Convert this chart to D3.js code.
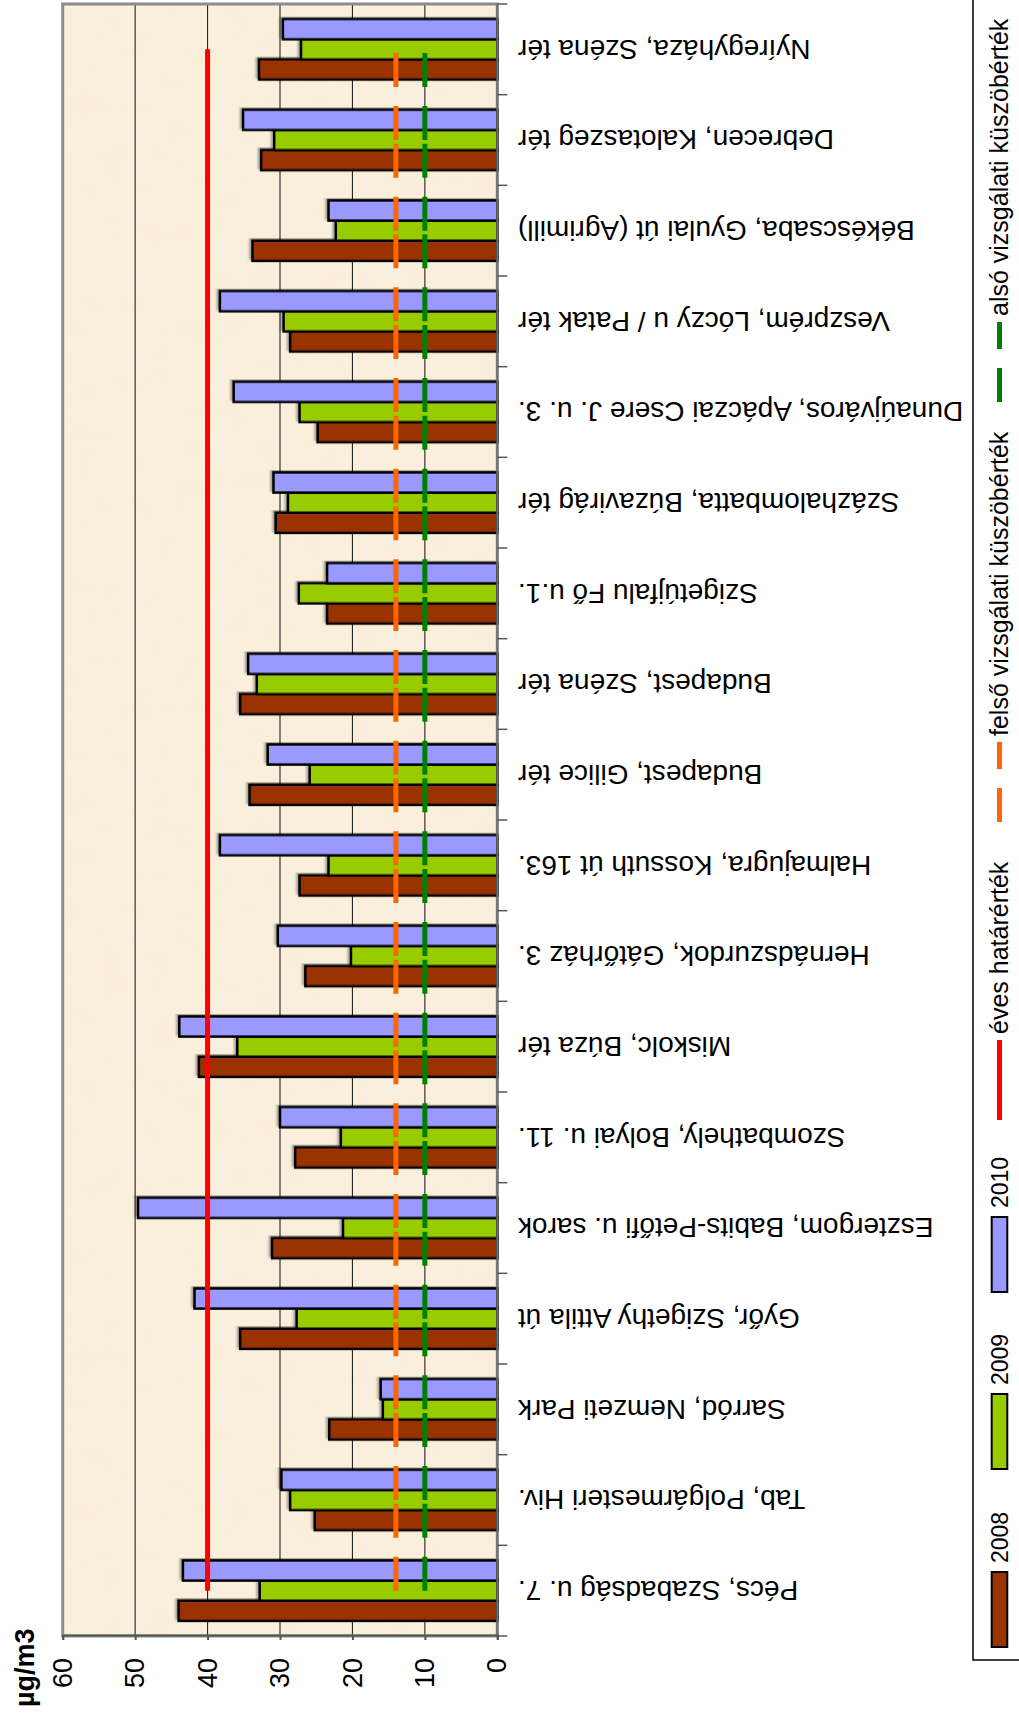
<!DOCTYPE html>
<html lang="hu">
<head>
<meta charset="utf-8">
<title>NO2 éves átlag 2008-2010</title>
<script src="https://cdn.jsdelivr.net/npm/d3@7"></script>
<style>
body { margin: 0; background: #fff; }
svg text { font-family: "Liberation Sans", Arial, sans-serif; fill: #000; }
</style>
</head>
<body>
<script>
// categories (first = left end of the unrotated chart)
var stations = [
  "Pécs, Szabadság u. 7.",
  "Tab, Polgármesteri Hiv.",
  "Sarród, Nemzeti Park",
  "Győr, Szigethy Attila út",
  "Esztergom, Babits-Petőfi u. sarok",
  "Szombathely, Bolyai u. 11.",
  "Miskolc, Búza tér",
  "Hernádszurdok, Gátőrház 3.",
  "Halmajugra, Kossuth út 163.",
  "Budapest, Gilice tér",
  "Budapest, Széna tér",
  "Szigetújfalu Fő u.1.",
  "Százhalombatta, Búzavirág tér",
  "Dunaújváros, Apáczai Csere J. u. 3.",
  "Veszprém, Lóczy u / Patak tér",
  "Békéscsaba, Gyulai út (Agrimill)",
  "Debrecen, Kalotaszeg tér",
  "Nyíregyháza, Széna tér"
];
var years = ["2008", "2009", "2010"];
var v2008 = [44.0, 25.2, 23.2, 35.5, 31.1, 27.9, 41.2, 26.5, 27.3, 34.2, 35.5, 23.5, 30.6, 24.8, 28.6, 33.8, 32.6, 32.9];
var v2009 = [32.8, 28.6, 15.8, 27.7, 21.3, 21.6, 35.9, 20.2, 23.3, 25.9, 33.2, 27.4, 28.9, 27.3, 29.5, 22.3, 30.8, 27.1];
var v2010 = [43.4, 29.8, 16.1, 41.8, 49.6, 30.0, 43.9, 30.3, 38.3, 31.7, 34.4, 23.5, 30.9, 36.4, 38.3, 23.3, 35.1, 29.6];
var limitAnnual = 40;     // éves határérték
var upperThreshold = 14;  // felső vizsgálati küszöbérték
var lowerThreshold = 10;  // alsó vizsgálati küszöbérték
var valueTicks = [0, 10, 20, 30, 40, 50, 60];
var unitLabel = "µg/m3";

var barColors = {"2008": "#993300", "2009": "#99CC00", "2010": "#9999FF"};

// the chart is drawn upright in a 1720 x 1019 frame and then turned 90deg
var W = 1720, H = 1019;
var pLeft = 84, pRight = 1716, pTop = 62.7, pBottom = 497.3;

var svg = d3.select("body").append("svg")
    .attr("width", H)
    .attr("height", W);

var defs = svg.append("defs");
var sh = defs.append("filter").attr("id", "shadow")
    .attr("x", "-10%").attr("y", "-30%").attr("width", "120%").attr("height", "160%");
sh.append("feDropShadow")
    .attr("dx", 2).attr("dy", -2).attr("stdDeviation", 1)
    .attr("flood-color", "#000").attr("flood-opacity", 0.35);

// light parchment texture for the plot area
var tex = defs.append("filter").attr("id", "paper");
tex.append("feTurbulence")
    .attr("type", "fractalNoise").attr("baseFrequency", 0.04)
    .attr("numOctaves", 3).attr("seed", 4).attr("result", "noise");
tex.append("feColorMatrix")
    .attr("in", "noise").attr("type", "matrix")
    .attr("values", "0 0 0 0 0.96  0 0 0 0 0.90  0 0 0 0 0.78  0 0 0 0.35 0")
    .attr("result", "tint");
tex.append("feComposite").attr("in", "tint").attr("in2", "SourceGraphic").attr("operator", "in");

var g = svg.append("g").attr("transform", "translate(0," + W + ") rotate(-90)");

var x0 = d3.scaleBand().domain(stations).range([pLeft, pRight]).padding(0);
var x1 = d3.scaleBand().domain(years).range([0, x0.bandwidth()])
    .paddingInner(0).paddingOuter(0.75);
var y = d3.scaleLinear().domain([0, 60]).range([pBottom, pTop]);

// plot background
g.append("rect")
    .attr("x", pLeft).attr("y", pTop)
    .attr("width", pRight - pLeft).attr("height", pBottom - pTop)
    .attr("fill", "#FAEEDA");
g.append("rect")
    .attr("x", pLeft).attr("y", pTop)
    .attr("width", pRight - pLeft).attr("height", pBottom - pTop)
    .attr("fill", "#FAEEDA")
    .attr("filter", "url(#paper)");

// gridlines
g.append("g").selectAll("line")
    .data(valueTicks.filter(function(d) { return d > 0 && d < 60; }))
    .enter().append("line")
    .attr("x1", pLeft).attr("x2", pRight)
    .attr("y1", function(d) { return y(d); })
    .attr("y2", function(d) { return y(d); })
    .attr("stroke", "#222").attr("stroke-width", 1.1);

// plot border
g.append("rect")
    .attr("x", pLeft).attr("y", pTop)
    .attr("width", pRight - pLeft).attr("height", pBottom - pTop)
    .attr("fill", "none").attr("stroke", "#8c8c8c").attr("stroke-width", 3);

// bars
var series = {"2008": v2008, "2009": v2009, "2010": v2010};
var groups = g.append("g").selectAll("g")
    .data(stations)
    .enter().append("g")
    .attr("transform", function(d) { return "translate(" + x0(d) + ",0)"; });

groups.selectAll("rect")
    .data(function(d, i) {
        return years.map(function(yr) { return {year: yr, value: series[yr][i]}; });
    })
    .enter().append("rect")
    .attr("x", function(d) { return x1(d.year); })
    .attr("y", function(d) { return y(d.value); })
    .attr("width", x1.bandwidth())
    .attr("height", function(d) { return y(0) - y(d.value); })
    .attr("fill", function(d) { return barColors[d.year]; })
    .attr("stroke", "#000").attr("stroke-width", 2.5)
    .attr("filter", "url(#shadow)");

// axes lines
g.append("line")
    .attr("x1", pLeft).attr("x2", pRight)
    .attr("y1", pBottom).attr("y2", pBottom)
    .attr("stroke", "#707070").attr("stroke-width", 2);

var yAxis = g.append("g")
    .attr("transform", "translate(" + pLeft + ",0)")
    .call(d3.axisLeft(y).tickValues(valueTicks).tickSize(4).tickPadding(18));
yAxis.select(".domain").attr("stroke", "#555").attr("stroke-width", 2);
yAxis.selectAll(".tick line").attr("stroke", "#555").attr("stroke-width", 2);
yAxis.selectAll("text")
    .style("font-family", "'Liberation Sans', Arial, sans-serif")
    .style("font-size", "27px").attr("fill", "#000");

// category ticks
var bounds = stations.map(function(d) { return x0(d); }).concat([pRight]);
g.append("g").selectAll("line")
    .data(bounds)
    .enter().append("line")
    .attr("x1", function(d) { return d; }).attr("x2", function(d) { return d; })
    .attr("y1", pBottom).attr("y2", pBottom + 10)
    .attr("stroke", "#555").attr("stroke-width", 1.5);

// category labels
g.append("g").selectAll("text")
    .data(stations)
    .enter().append("text")
    .attr("transform", function(d) {
        return "translate(" + (x0(d) + x0.bandwidth() / 2) + "," + 518 + ") rotate(-90)";
    })
    .attr("text-anchor", "end")
    .attr("dy", "0.35em")
    .style("font-size", "28px")
    .text(function(d) { return d; });

// threshold lines
var cx = function(d) { return x0(d) + x0.bandwidth() / 2; };
g.append("path")
    .datum(stations)
    .attr("fill", "none")
    .attr("stroke", "#FF0000").attr("stroke-width", 5)
    .attr("d", d3.line().x(cx).y(function() { return y(limitAnnual); }));

function dashedSeries(val, color) {
    var segs = d3.pairs(stations);
    g.append("g").selectAll("line")
        .data(segs)
        .enter().append("line")
        .attr("x1", function(d) { return cx(d[0]); })
        .attr("x2", function(d) { return cx(d[1]); })
        .attr("y1", y(val)).attr("y2", y(val))
        .attr("stroke", color).attr("stroke-width", 5)
        .attr("stroke-dasharray", "34,19");
}
dashedSeries(upperThreshold, "#FF6600");
dashedSeries(lowerThreshold, "#008000");

// unit label
g.append("text")
    .attr("x", 13).attr("y", 34)
    .style("font-size", "27px").style("font-weight", "bold")
    .text(unitLabel);

// legend
var legY = 999.5;
g.append("rect")
    .attr("x", 60).attr("y", 973)
    .attr("width", 1700).attr("height", 80)
    .attr("fill", "#fff").attr("stroke", "#000").attr("stroke-width", 1.5);

var legendItems = [
    {name: "2008", type: "bar", key: "2008", x: 73},
    {name: "2009", type: "bar", key: "2009", x: 251},
    {name: "2010", type: "bar", key: "2010", x: 428},
    {name: "éves határérték", type: "line", color: "#FF0000", dash: null, x: 600},
    {name: "felső vizsgálati küszöbérték", type: "line", color: "#FF6600", dash: "34,19", x: 898},
    {name: "alsó vizsgálati küszöbérték", type: "line", color: "#008000", dash: "34,19", x: 1318}
];
var leg = g.append("g");
legendItems.forEach(function(it) {
    var textX;
    if (it.type === "bar") {
        leg.append("rect")
            .attr("x", it.x).attr("y", legY - 7.8)
            .attr("width", 75).attr("height", 15.6)
            .attr("fill", barColors[it.key])
            .attr("stroke", "#000").attr("stroke-width", 2);
        textX = it.x + 84;
    } else {
        leg.append("line")
            .attr("x1", it.x).attr("x2", it.x + 80)
            .attr("y1", legY).attr("y2", legY)
            .attr("stroke", it.color).attr("stroke-width", 5)
            .attr("stroke-dasharray", it.dash);
        textX = it.x + 86;
    }
    leg.append("text")
        .attr("x", textX).attr("y", legY + 8)
        .style("font-size", it.type === "bar" ? "23px" : "25px")
        .text(it.name);
});
</script>
</body>
</html>
